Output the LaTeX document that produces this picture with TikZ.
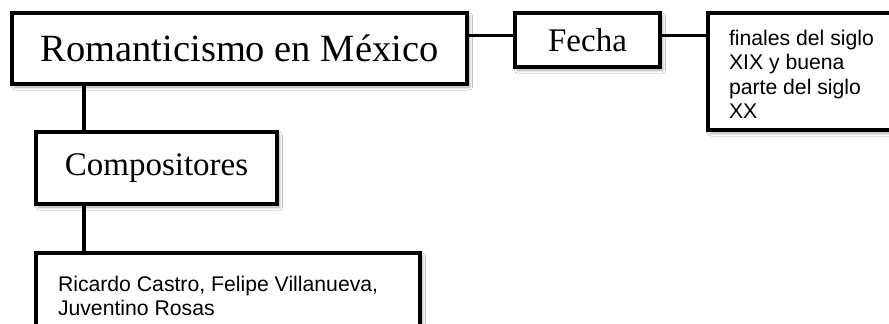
\documentclass[tikz,border=0pt]{standalone}
\usepackage{fontspec}
\setmainfont{Liberation Serif}
\newfontfamily\arialfont{Liberation Sans}
\usetikzlibrary{shadows.blur}
\begin{document}
\begin{tikzpicture}[x=1pt,y=-1pt,
  box/.style={draw=black, line width=4.8pt, fill=white, inner sep=0pt, outer sep=0pt,
    blur shadow={shadow xshift=2.5pt, shadow yshift=-3pt, shadow blur steps=6,
      shadow blur radius=3pt, shadow opacity=35}},
  conn/.style={draw=black, line width=3.8pt},
  titletxt/.style={font=\fontsize{38.5}{44}\selectfont},
  subtxt/.style={font=\fontsize{33}{38}\selectfont},
  bodytxt/.style={font=\arialfont\fontsize{21.2}{24.5}\selectfont, align=left,
    anchor=north west, inner sep=0pt, outer sep=0pt}
]
\useasboundingbox (0,0) rectangle (889,324);
\clip (0,0) rectangle (889,324);
\fill[white] (0,0) rectangle (889,324);
\node[box, minimum width=455pt, minimum height=71pt, titletxt] (main) at (239.5,48.5) {Romanticismo en México};
\node[box, minimum width=145pt, minimum height=54pt, subtxt] (fecha) at (587.5,40) {Fecha};
\node[box, minimum width=220pt, minimum height=117pt, anchor=north west] (fbox) at (708,13) {};
\node[bodytxt] (ftxt) at (729,30) {finales del siglo\\XIX y buena\\parte del siglo\\XX};
\node[box, minimum width=241pt, minimum height=72pt, subtxt] (comp) at (156.5,168) {Compositores};
\node[box, minimum width=384pt, minimum height=110pt, anchor=north west] (cbox) at (36,253) {};
\node[bodytxt] (ctxt) at (58,276) {Ricardo Castro, Felipe Villanueva,\\Juventino Rosas};
\coordinate (hl) at (0,35.5);
\coordinate (vl) at (84,0);
\draw[conn] (main.east |- hl) -- (fecha.west |- hl);
\draw[conn] (fecha.east |- hl) -- (fbox.west |- hl);
\draw[conn] (vl |- main.south) -- (vl |- comp.north);
\draw[conn] (vl |- comp.south) -- (vl |- cbox.north);
\end{tikzpicture}
\end{document}
